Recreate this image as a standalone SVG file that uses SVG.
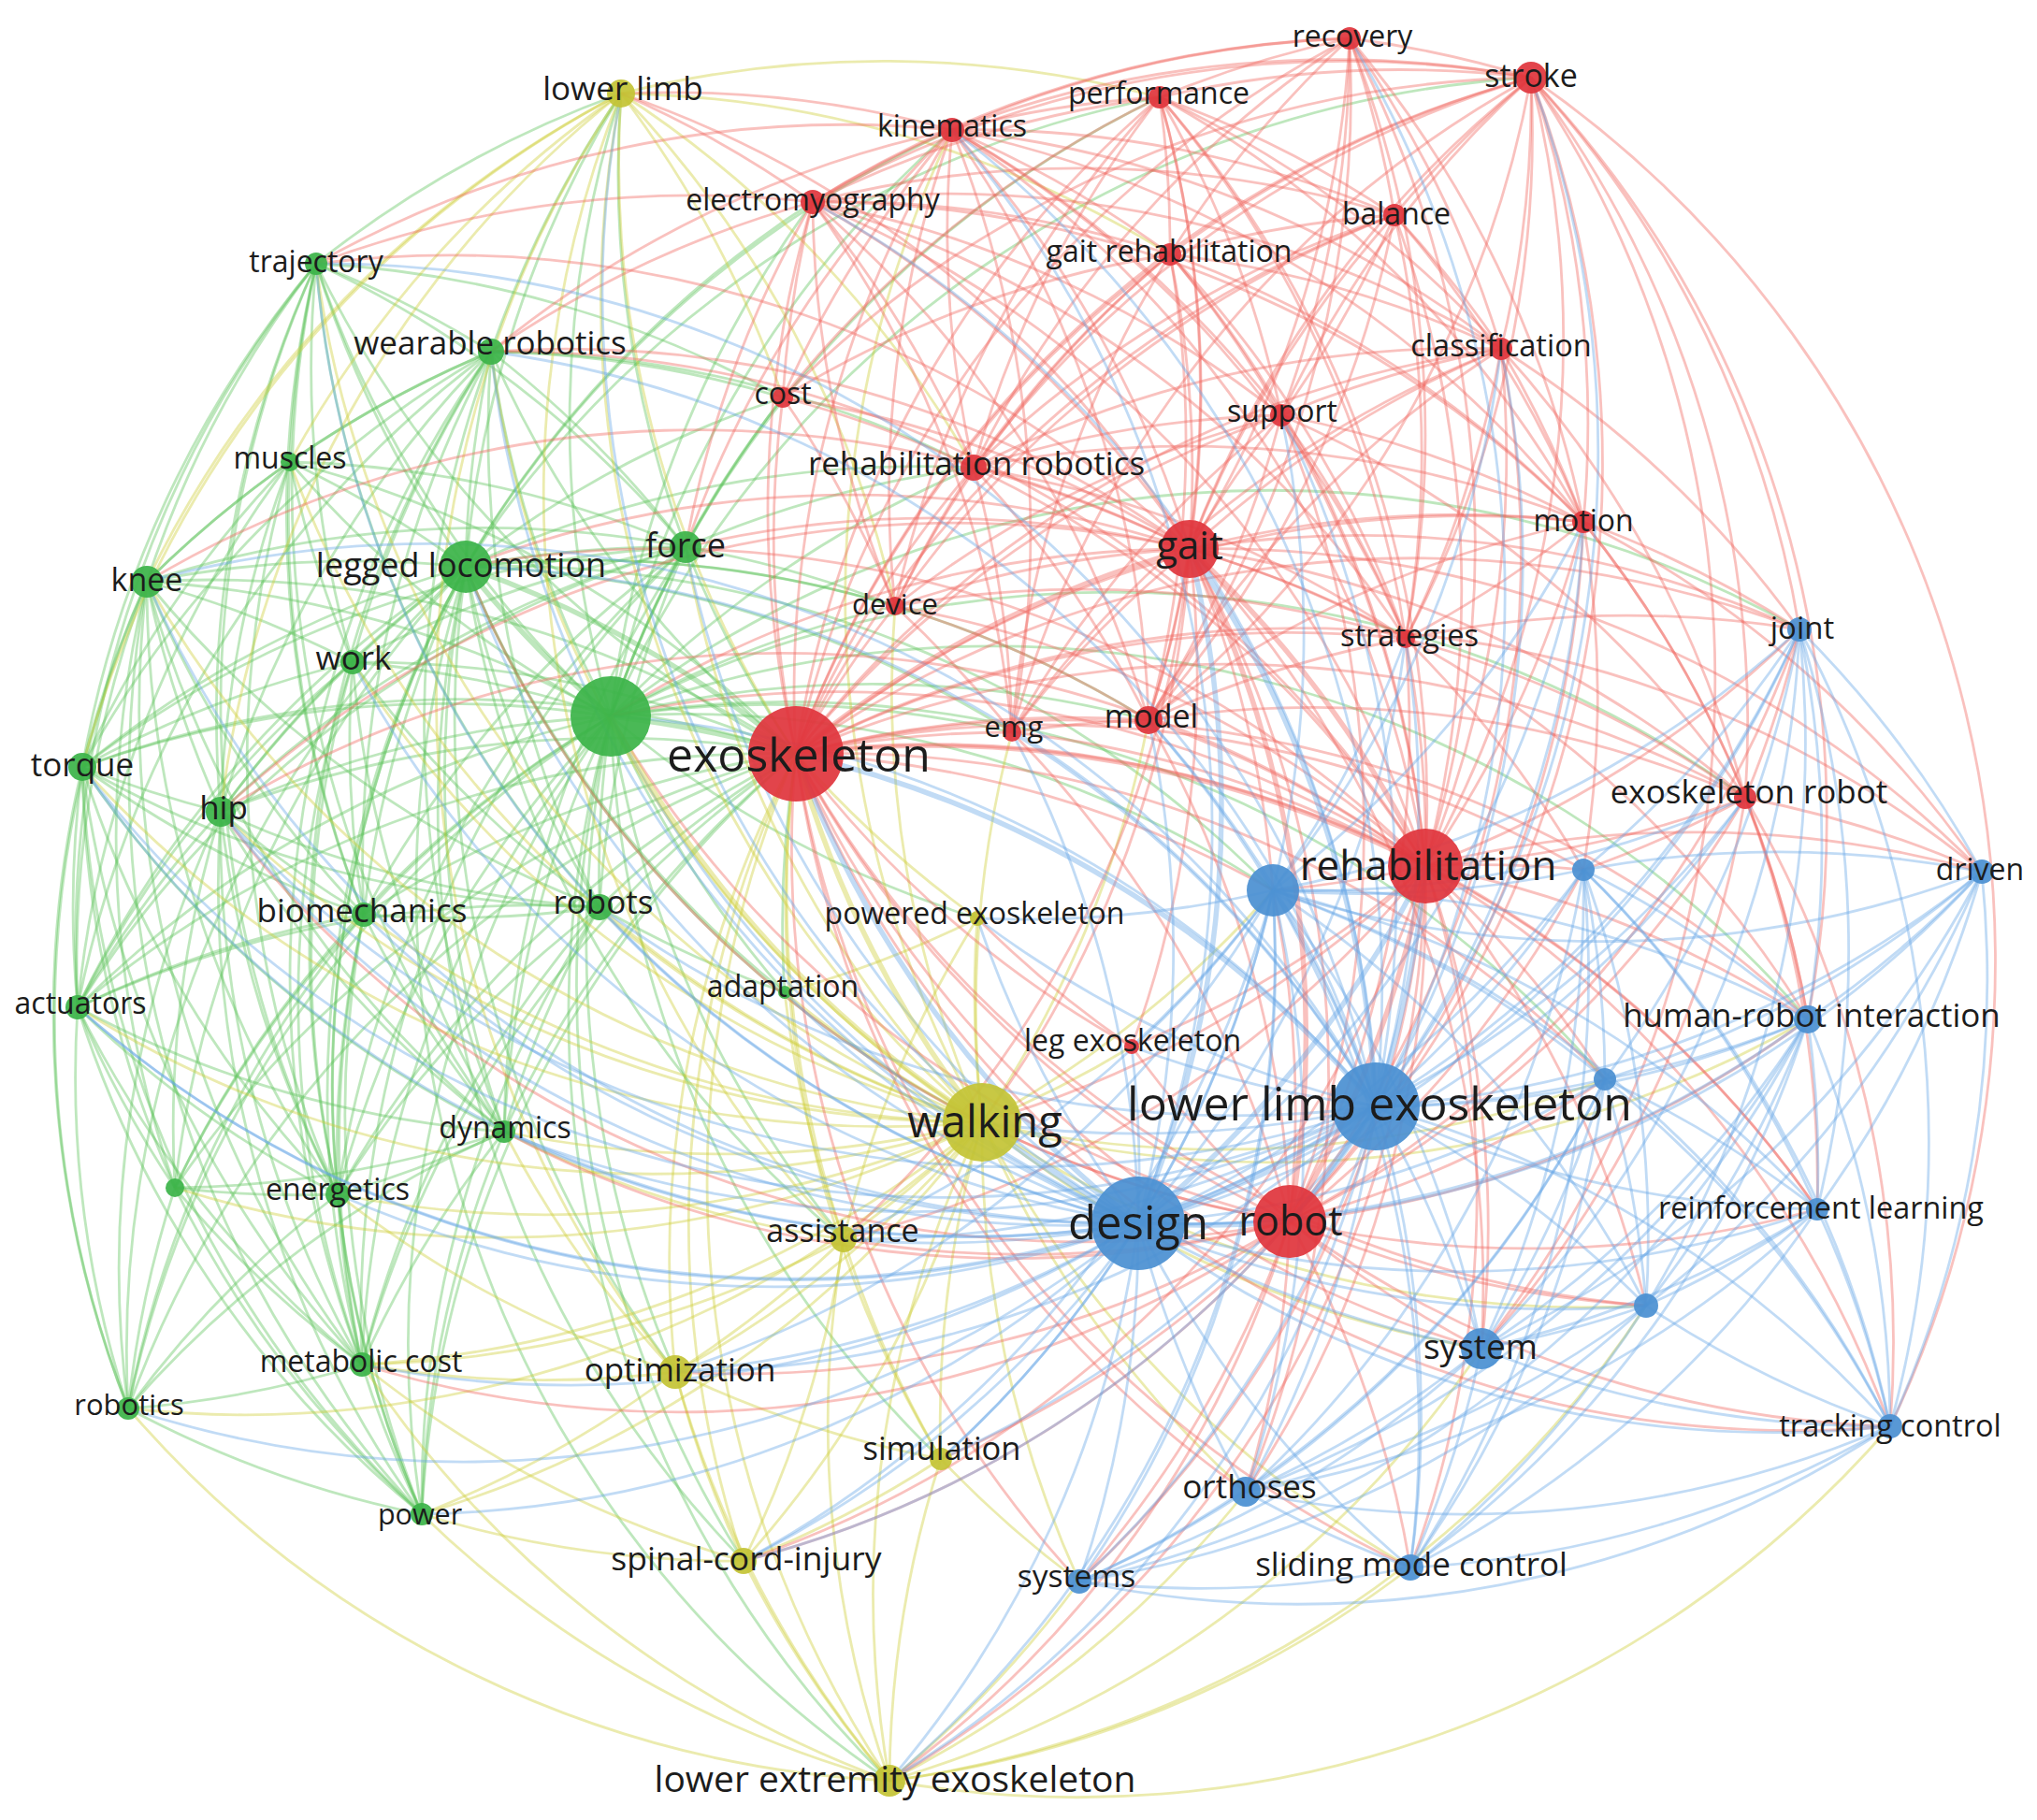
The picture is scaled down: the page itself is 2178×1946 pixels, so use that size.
<svg xmlns="http://www.w3.org/2000/svg" width="2178" height="1946" viewBox="0 0 2178 1946">
<style>
.e path{fill:none;stroke-width:2.8;stroke-opacity:.4}
.g path{stroke:#5cc45a}
.y path{stroke:#cdcd35}
.r path{stroke:#f0645c}
.b path{stroke:#64a6e6}
.t path{stroke-width:5.5;stroke-opacity:.4}
.cR{fill:#e0363d}
.cG{fill:#3cb449}
.cB{fill:#4b90d2}
.cY{fill:#c4c436}
circle{fill-opacity:.93}
text{font-family:"Open Sans","Noto Sans","DejaVu Sans",sans-serif;fill:#1c1c1c;text-anchor:middle}
</style>
<rect width="2178" height="1946" fill="#fff"/>
<g id="connectors">
<g class="e g">
<path d="M157 622A1150 1150 0 0 1 851 806"/><path d="M310 494A1150 1150 0 0 1 851 806"/><path d="M851 806A1150 1150 0 0 1 338 282"/><path d="M851 806A1150 1150 0 0 1 525 376"/><path d="M851 806A1150 1150 0 0 1 733 585"/><path d="M377 708A1150 1150 0 0 1 851 806"/><path d="M88 820A1150 1150 0 0 1 851 806"/><path d="M236 868A1150 1150 0 0 1 851 806"/><path d="M389 978A1150 1150 0 0 1 851 806"/><path d="M641 970A1150 1150 0 0 1 851 806"/><path d="M83 1077A1150 1150 0 0 1 851 806"/><path d="M839 1061A1150 1150 0 0 1 851 806"/><path d="M539 1210A1150 1150 0 0 1 851 806"/><path d="M187 1270A1150 1150 0 0 1 851 806"/><path d="M361 1277A1150 1150 0 0 1 851 806"/><path d="M387 1459A1150 1150 0 0 1 851 806"/><path d="M137 1506A1150 1150 0 0 1 851 806"/><path d="M451 1619A1150 1150 0 0 1 851 806"/>
<path d="M653 766A1150 1150 0 0 1 338 282"/><path d="M653 766A1150 1150 0 0 1 525 376"/><path d="M653 766A1150 1150 0 0 1 310 494"/><path d="M157 622A1150 1150 0 0 1 653 766"/><path d="M653 766A1150 1150 0 0 1 733 585"/><path d="M377 708A1150 1150 0 0 1 653 766"/><path d="M88 820A1150 1150 0 0 1 653 766"/><path d="M236 868A1150 1150 0 0 1 653 766"/><path d="M389 978A1150 1150 0 0 1 653 766"/><path d="M641 970A1150 1150 0 0 1 653 766"/><path d="M83 1077A1150 1150 0 0 1 653 766"/><path d="M839 1061A1150 1150 0 0 1 653 766"/><path d="M539 1210A1150 1150 0 0 1 653 766"/><path d="M187 1270A1150 1150 0 0 1 653 766"/><path d="M361 1277A1150 1150 0 0 1 653 766"/><path d="M387 1459A1150 1150 0 0 1 653 766"/><path d="M137 1506A1150 1150 0 0 1 653 766"/><path d="M451 1619A1150 1150 0 0 1 653 766"/><path d="M653 766A1150 1150 0 0 1 664 100"/><path d="M653 766A1150 1150 0 0 1 1018 139"/><path d="M653 766A1150 1150 0 0 1 869 216"/><path d="M653 766A1150 1150 0 0 1 837 425"/><path d="M653 766A1150 1150 0 0 1 1041 500"/><path d="M653 766A1150 1150 0 0 1 957 648"/><path d="M653 766A1150 1150 0 0 1 1082 783"/><path d="M653 766A1150 1150 0 0 1 1228 770"/><path d="M722 1467A1150 1150 0 0 1 653 766"/><path d="M1006 1560A1150 1150 0 0 1 653 766"/><path d="M795 1669A1150 1150 0 0 1 653 766"/><path d="M951 1904A1150 1150 0 0 1 653 766"/><path d="M1045 982A1150 1150 0 0 1 653 766"/><path d="M902 1325A1150 1150 0 0 1 653 766"/><path d="M653 766A1150 1150 0 0 1 1361 952"/><path d="M653 766A1150 1150 0 0 1 1933 1090"/><path d="M653 766A1150 1150 0 0 1 1716 1154"/><path d="M653 766A1150 1150 0 0 1 1924 673"/><path d="M653 766A1150 1150 0 0 1 1240 104"/><path d="M653 766A1150 1150 0 0 1 1637 83"/><path d="M653 766A1150 1150 0 0 1 1866 853"/>
<path d="M498 606A1150 1150 0 0 1 338 282"/><path d="M498 606A1150 1150 0 0 1 525 376"/><path d="M310 494A1150 1150 0 0 1 498 606"/><path d="M157 622A1150 1150 0 0 1 498 606"/><path d="M498 606A1150 1150 0 0 1 733 585"/><path d="M377 708A1150 1150 0 0 1 498 606"/><path d="M88 820A1150 1150 0 0 1 498 606"/><path d="M236 868A1150 1150 0 0 1 498 606"/><path d="M389 978A1150 1150 0 0 1 498 606"/><path d="M641 970A1150 1150 0 0 1 498 606"/><path d="M83 1077A1150 1150 0 0 1 498 606"/><path d="M839 1061A1150 1150 0 0 1 498 606"/><path d="M539 1210A1150 1150 0 0 1 498 606"/><path d="M187 1270A1150 1150 0 0 1 498 606"/><path d="M361 1277A1150 1150 0 0 1 498 606"/><path d="M387 1459A1150 1150 0 0 1 498 606"/><path d="M137 1506A1150 1150 0 0 1 498 606"/><path d="M451 1619A1150 1150 0 0 1 498 606"/><path d="M498 606A1150 1150 0 0 1 664 100"/><path d="M498 606A1150 1150 0 0 1 1018 139"/><path d="M498 606A1150 1150 0 0 1 869 216"/><path d="M498 606A1150 1150 0 0 1 837 425"/><path d="M498 606A1150 1150 0 0 1 1041 500"/><path d="M498 606A1150 1150 0 0 1 957 648"/><path d="M498 606A1150 1150 0 0 1 1082 783"/><path d="M1050 1200A1150 1150 0 0 1 498 606"/><path d="M902 1325A1150 1150 0 0 1 498 606"/><path d="M722 1467A1150 1150 0 0 1 498 606"/><path d="M795 1669A1150 1150 0 0 1 498 606"/><path d="M951 1904A1150 1150 0 0 1 498 606"/><path d="M498 606A1150 1150 0 0 1 1361 952"/><path d="M498 606A1150 1150 0 0 1 1228 770"/><path d="M498 606A1150 1150 0 0 1 1240 104"/>
<path d="M338 282A1150 1150 0 0 1 525 376"/><path d="M310 494A1150 1150 0 0 1 338 282"/><path d="M157 622A1150 1150 0 0 1 338 282"/><path d="M338 282A1150 1150 0 0 1 733 585"/><path d="M377 708A1150 1150 0 0 1 338 282"/><path d="M88 820A1150 1150 0 0 1 338 282"/><path d="M236 868A1150 1150 0 0 1 338 282"/><path d="M389 978A1150 1150 0 0 1 338 282"/><path d="M641 970A1150 1150 0 0 1 338 282"/><path d="M83 1077A1150 1150 0 0 1 338 282"/><path d="M539 1210A1150 1150 0 0 1 338 282"/><path d="M361 1277A1150 1150 0 0 1 338 282"/><path d="M338 282A1150 1150 0 0 1 664 100"/><path d="M338 282A1150 1150 0 0 1 837 425"/>
<path d="M310 494A1150 1150 0 0 1 525 376"/><path d="M157 622A1150 1150 0 0 1 525 376"/><path d="M377 708A1150 1150 0 0 1 525 376"/><path d="M88 820A1150 1150 0 0 1 525 376"/><path d="M236 868A1150 1150 0 0 1 525 376"/><path d="M389 978A1150 1150 0 0 1 525 376"/><path d="M641 970A1150 1150 0 0 1 525 376"/><path d="M83 1077A1150 1150 0 0 1 525 376"/><path d="M539 1210A1150 1150 0 0 1 525 376"/><path d="M361 1277A1150 1150 0 0 1 525 376"/><path d="M387 1459A1150 1150 0 0 1 525 376"/><path d="M525 376A1150 1150 0 0 1 733 585"/><path d="M525 376A1150 1150 0 0 1 664 100"/><path d="M525 376A1150 1150 0 0 1 837 425"/><path d="M525 376A1150 1150 0 0 1 1041 500"/>
<path d="M157 622A1150 1150 0 0 1 310 494"/><path d="M377 708A1150 1150 0 0 1 310 494"/><path d="M88 820A1150 1150 0 0 1 310 494"/><path d="M236 868A1150 1150 0 0 1 310 494"/><path d="M389 978A1150 1150 0 0 1 310 494"/><path d="M83 1077A1150 1150 0 0 1 310 494"/><path d="M361 1277A1150 1150 0 0 1 310 494"/><path d="M310 494A1150 1150 0 0 1 733 585"/>
<path d="M157 622A1150 1150 0 0 1 377 708"/><path d="M88 820A1150 1150 0 0 1 157 622"/><path d="M236 868A1150 1150 0 0 1 157 622"/><path d="M389 978A1150 1150 0 0 1 157 622"/><path d="M641 970A1150 1150 0 0 1 157 622"/><path d="M83 1077A1150 1150 0 0 1 157 622"/><path d="M539 1210A1150 1150 0 0 1 157 622"/><path d="M187 1270A1150 1150 0 0 1 157 622"/><path d="M361 1277A1150 1150 0 0 1 157 622"/><path d="M387 1459A1150 1150 0 0 1 157 622"/><path d="M137 1506A1150 1150 0 0 1 157 622"/><path d="M451 1619A1150 1150 0 0 1 157 622"/><path d="M157 622A1150 1150 0 0 1 733 585"/>
<path d="M377 708A1150 1150 0 0 1 733 585"/><path d="M88 820A1150 1150 0 0 1 733 585"/><path d="M236 868A1150 1150 0 0 1 733 585"/><path d="M389 978A1150 1150 0 0 1 733 585"/><path d="M641 970A1150 1150 0 0 1 733 585"/><path d="M83 1077A1150 1150 0 0 1 733 585"/><path d="M539 1210A1150 1150 0 0 1 733 585"/><path d="M361 1277A1150 1150 0 0 1 733 585"/><path d="M387 1459A1150 1150 0 0 1 733 585"/><path d="M733 585A1150 1150 0 0 1 664 100"/><path d="M733 585A1150 1150 0 0 1 837 425"/><path d="M733 585A1150 1150 0 0 1 957 648"/><path d="M733 585A1150 1150 0 0 1 1041 500"/>
<path d="M88 820A1150 1150 0 0 1 377 708"/><path d="M236 868A1150 1150 0 0 1 377 708"/><path d="M389 978A1150 1150 0 0 1 377 708"/><path d="M641 970A1150 1150 0 0 1 377 708"/><path d="M83 1077A1150 1150 0 0 1 377 708"/><path d="M539 1210A1150 1150 0 0 1 377 708"/><path d="M361 1277A1150 1150 0 0 1 377 708"/><path d="M387 1459A1150 1150 0 0 1 377 708"/>
<path d="M236 868A1150 1150 0 0 1 88 820"/><path d="M389 978A1150 1150 0 0 1 88 820"/><path d="M641 970A1150 1150 0 0 1 88 820"/><path d="M83 1077A1150 1150 0 0 1 88 820"/><path d="M539 1210A1150 1150 0 0 1 88 820"/><path d="M187 1270A1150 1150 0 0 1 88 820"/><path d="M361 1277A1150 1150 0 0 1 88 820"/><path d="M387 1459A1150 1150 0 0 1 88 820"/><path d="M137 1506A1150 1150 0 0 1 88 820"/><path d="M451 1619A1150 1150 0 0 1 88 820"/>
<path d="M389 978A1150 1150 0 0 1 236 868"/><path d="M641 970A1150 1150 0 0 1 236 868"/><path d="M83 1077A1150 1150 0 0 1 236 868"/><path d="M539 1210A1150 1150 0 0 1 236 868"/><path d="M187 1270A1150 1150 0 0 1 236 868"/><path d="M361 1277A1150 1150 0 0 1 236 868"/><path d="M387 1459A1150 1150 0 0 1 236 868"/><path d="M137 1506A1150 1150 0 0 1 236 868"/><path d="M451 1619A1150 1150 0 0 1 236 868"/>
<path d="M641 970A1150 1150 0 0 1 389 978"/><path d="M83 1077A1150 1150 0 0 1 389 978"/><path d="M539 1210A1150 1150 0 0 1 389 978"/><path d="M187 1270A1150 1150 0 0 1 389 978"/><path d="M361 1277A1150 1150 0 0 1 389 978"/><path d="M387 1459A1150 1150 0 0 1 389 978"/><path d="M137 1506A1150 1150 0 0 1 389 978"/><path d="M451 1619A1150 1150 0 0 1 389 978"/>
<path d="M83 1077A1150 1150 0 0 1 641 970"/><path d="M539 1210A1150 1150 0 0 1 641 970"/><path d="M361 1277A1150 1150 0 0 1 641 970"/><path d="M387 1459A1150 1150 0 0 1 641 970"/><path d="M451 1619A1150 1150 0 0 1 641 970"/><path d="M839 1061A1150 1150 0 0 1 641 970"/>
<path d="M539 1210A1150 1150 0 0 1 83 1077"/><path d="M187 1270A1150 1150 0 0 1 83 1077"/><path d="M361 1277A1150 1150 0 0 1 83 1077"/><path d="M387 1459A1150 1150 0 0 1 83 1077"/><path d="M137 1506A1150 1150 0 0 1 83 1077"/><path d="M451 1619A1150 1150 0 0 1 83 1077"/>
<path d="M539 1210A1150 1150 0 0 1 361 1277"/><path d="M387 1459A1150 1150 0 0 1 539 1210"/><path d="M137 1506A1150 1150 0 0 1 539 1210"/><path d="M451 1619A1150 1150 0 0 1 539 1210"/><path d="M539 1210A1150 1150 0 0 1 187 1270"/><path d="M361 1277A1150 1150 0 0 1 187 1270"/><path d="M387 1459A1150 1150 0 0 1 187 1270"/><path d="M137 1506A1150 1150 0 0 1 187 1270"/><path d="M451 1619A1150 1150 0 0 1 187 1270"/><path d="M387 1459A1150 1150 0 0 1 361 1277"/><path d="M137 1506A1150 1150 0 0 1 361 1277"/><path d="M451 1619A1150 1150 0 0 1 361 1277"/><path d="M387 1459A1150 1150 0 0 1 137 1506"/><path d="M451 1619A1150 1150 0 0 1 387 1459"/><path d="M451 1619A1150 1150 0 0 1 137 1506"/>
</g>
<g class="e y">
<path d="M851 806A1150 1150 0 0 1 664 100"/><path d="M1045 982A1150 1150 0 0 1 851 806"/><path d="M902 1325A1150 1150 0 0 1 851 806"/><path d="M722 1467A1150 1150 0 0 1 851 806"/><path d="M1006 1560A1150 1150 0 0 1 851 806"/><path d="M795 1669A1150 1150 0 0 1 851 806"/><path d="M951 1904A1150 1150 0 0 1 851 806"/>
<path d="M1050 1200A1150 1150 0 0 1 902 1325"/><path d="M1050 1200A1150 1150 0 0 1 722 1467"/><path d="M1006 1560A1150 1150 0 0 1 1050 1200"/><path d="M1050 1200A1150 1150 0 0 1 795 1669"/><path d="M951 1904A1150 1150 0 0 1 1050 1200"/><path d="M1050 1200A1150 1150 0 0 1 1045 982"/><path d="M1050 1200A1150 1150 0 0 1 839 1061"/><path d="M1050 1200A1150 1150 0 0 1 539 1210"/><path d="M1050 1200A1150 1150 0 0 1 387 1459"/><path d="M1050 1200A1150 1150 0 0 1 451 1619"/><path d="M1050 1200A1150 1150 0 0 1 361 1277"/><path d="M1050 1200A1150 1150 0 0 1 641 970"/><path d="M1050 1200A1150 1150 0 0 1 389 978"/><path d="M1050 1200A1150 1150 0 0 1 236 868"/><path d="M1050 1200A1150 1150 0 0 1 157 622"/><path d="M1050 1200A1150 1150 0 0 1 88 820"/><path d="M1050 1200A1150 1150 0 0 1 83 1077"/><path d="M1050 1200A1150 1150 0 0 1 137 1506"/><path d="M1050 1200A1150 1150 0 0 1 187 1270"/><path d="M1050 1200A1150 1150 0 0 1 733 585"/><path d="M1050 1200A1150 1150 0 0 1 377 708"/><path d="M1050 1200A1150 1150 0 0 1 310 494"/><path d="M1050 1200A1150 1150 0 0 1 338 282"/><path d="M1050 1200A1150 1150 0 0 1 525 376"/><path d="M1050 1200A1150 1150 0 0 1 664 100"/><path d="M1050 1200A1150 1150 0 0 1 1082 783"/><path d="M1050 1200A1150 1150 0 0 1 957 648"/><path d="M1050 1200A1150 1150 0 0 1 1018 139"/><path d="M1361 952A1150 1150 0 0 1 1050 1200"/><path d="M1716 1154A1150 1150 0 0 1 1050 1200"/><path d="M1584 1442A1150 1150 0 0 1 1050 1200"/><path d="M1332 1595A1150 1150 0 0 1 1050 1200"/><path d="M1508 1676A1150 1150 0 0 1 1050 1200"/><path d="M1154 1691A1150 1150 0 0 1 1050 1200"/><path d="M1933 1090A1150 1150 0 0 1 1050 1200"/><path d="M1760 1396A1150 1150 0 0 1 1050 1200"/><path d="M1228 770A1150 1150 0 0 1 1050 1200"/><path d="M1210 1119A1150 1150 0 0 1 1050 1200"/>
<path d="M664 100A1150 1150 0 0 1 837 425"/><path d="M664 100A1150 1150 0 0 1 1041 500"/><path d="M664 100A1150 1150 0 0 1 957 648"/><path d="M664 100A1150 1150 0 0 1 1240 104"/><path d="M664 100A1150 1150 0 0 1 1251 272"/><path d="M157 622A1150 1150 0 0 1 664 100"/><path d="M310 494A1150 1150 0 0 1 664 100"/><path d="M88 820A1150 1150 0 0 1 664 100"/><path d="M236 868A1150 1150 0 0 1 664 100"/><path d="M902 1325A1150 1150 0 0 1 664 100"/><path d="M722 1467A1150 1150 0 0 1 664 100"/>
<path d="M902 1325A1150 1150 0 0 1 722 1467"/><path d="M1006 1560A1150 1150 0 0 1 902 1325"/><path d="M902 1325A1150 1150 0 0 1 795 1669"/><path d="M951 1904A1150 1150 0 0 1 902 1325"/><path d="M902 1325A1150 1150 0 0 1 1045 982"/><path d="M902 1325A1150 1150 0 0 1 839 1061"/><path d="M902 1325A1150 1150 0 0 1 539 1210"/><path d="M902 1325A1150 1150 0 0 1 387 1459"/><path d="M1006 1560A1150 1150 0 0 1 722 1467"/><path d="M795 1669A1150 1150 0 0 1 722 1467"/><path d="M951 1904A1150 1150 0 0 1 722 1467"/><path d="M722 1467A1150 1150 0 0 1 387 1459"/><path d="M722 1467A1150 1150 0 0 1 451 1619"/><path d="M722 1467A1150 1150 0 0 1 539 1210"/><path d="M722 1467A1150 1150 0 0 1 361 1277"/><path d="M1006 1560A1150 1150 0 0 1 795 1669"/><path d="M951 1904A1150 1150 0 0 1 1006 1560"/><path d="M1154 1691A1150 1150 0 0 1 1006 1560"/><path d="M951 1904A1150 1150 0 0 1 795 1669"/><path d="M795 1669A1150 1150 0 0 1 451 1619"/><path d="M795 1669A1150 1150 0 0 1 387 1459"/><path d="M951 1904A1150 1150 0 0 1 451 1619"/><path d="M951 1904A1150 1150 0 0 1 387 1459"/><path d="M951 1904A1150 1150 0 0 1 137 1506"/><path d="M1154 1691A1150 1150 0 0 1 951 1904"/><path d="M1332 1595A1150 1150 0 0 1 951 1904"/><path d="M1508 1676A1150 1150 0 0 1 951 1904"/><path d="M2021 1525A1150 1150 0 0 1 951 1904"/><path d="M1584 1442A1150 1150 0 0 1 951 1904"/><path d="M1760 1396A1150 1150 0 0 1 951 1904"/><path d="M1045 982A1150 1150 0 0 1 839 1061"/>
</g>
<g class="e r">
<path d="M851 806A1150 1150 0 0 1 1443 41"/><path d="M851 806A1150 1150 0 0 1 1637 83"/><path d="M851 806A1150 1150 0 0 1 1240 104"/><path d="M851 806A1150 1150 0 0 1 1018 139"/><path d="M851 806A1150 1150 0 0 1 869 216"/><path d="M851 806A1150 1150 0 0 1 1491 230"/><path d="M851 806A1150 1150 0 0 1 1251 272"/><path d="M851 806A1150 1150 0 0 1 1605 373"/><path d="M851 806A1150 1150 0 0 1 837 425"/><path d="M851 806A1150 1150 0 0 1 1370 444"/><path d="M851 806A1150 1150 0 0 1 1041 500"/><path d="M851 806A1150 1150 0 0 1 1693 558"/><path d="M851 806A1150 1150 0 0 1 957 648"/><path d="M851 806A1150 1150 0 0 1 1503 683"/><path d="M851 806A1150 1150 0 0 1 1228 770"/><path d="M851 806A1150 1150 0 0 1 1082 783"/><path d="M851 806A1150 1150 0 0 1 1866 853"/><path d="M1379 1306A1150 1150 0 0 1 851 806"/><path d="M1210 1119A1150 1150 0 0 1 851 806"/><path d="M851 806A1150 1150 0 0 1 1924 673"/><path d="M851 806A1150 1150 0 0 1 1361 952"/><path d="M851 806A1150 1150 0 0 1 1693 930"/><path d="M851 806A1150 1150 0 0 1 2119 932"/><path d="M851 806A1150 1150 0 0 1 1933 1090"/><path d="M851 806A1150 1150 0 0 1 1716 1154"/><path d="M851 806A1150 1150 0 0 1 1943 1293"/><path d="M1760 1396A1150 1150 0 0 1 851 806"/><path d="M1584 1442A1150 1150 0 0 1 851 806"/><path d="M2021 1525A1150 1150 0 0 1 851 806"/><path d="M1332 1595A1150 1150 0 0 1 851 806"/><path d="M1508 1676A1150 1150 0 0 1 851 806"/><path d="M1154 1691A1150 1150 0 0 1 851 806"/>
<path d="M1443 41A1150 1150 0 0 1 1272 587"/><path d="M1272 587A1150 1150 0 0 1 1637 83"/><path d="M1240 104A1150 1150 0 0 1 1272 587"/><path d="M1018 139A1150 1150 0 0 1 1272 587"/><path d="M869 216A1150 1150 0 0 1 1272 587"/><path d="M1272 587A1150 1150 0 0 1 1491 230"/><path d="M1251 272A1150 1150 0 0 1 1272 587"/><path d="M1272 587A1150 1150 0 0 1 1605 373"/><path d="M837 425A1150 1150 0 0 1 1272 587"/><path d="M1272 587A1150 1150 0 0 1 1370 444"/><path d="M1041 500A1150 1150 0 0 1 1272 587"/><path d="M1272 587A1150 1150 0 0 1 1693 558"/><path d="M957 648A1150 1150 0 0 1 1272 587"/><path d="M1272 587A1150 1150 0 0 1 1503 683"/><path d="M1272 587A1150 1150 0 0 1 1228 770"/><path d="M1082 783A1150 1150 0 0 1 1272 587"/><path d="M1272 587A1150 1150 0 0 1 1866 853"/><path d="M1272 587A1150 1150 0 0 1 1210 1119"/><path d="M498 606A1150 1150 0 0 1 1272 587"/><path d="M653 766A1150 1150 0 0 1 1272 587"/><path d="M525 376A1150 1150 0 0 1 1272 587"/><path d="M733 585A1150 1150 0 0 1 1272 587"/><path d="M1272 587A1150 1150 0 0 1 1050 1200"/><path d="M1272 587A1150 1150 0 0 1 1924 673"/><path d="M1272 587A1150 1150 0 0 1 1361 952"/><path d="M1272 587A1150 1150 0 0 1 1933 1090"/><path d="M1272 587A1150 1150 0 0 1 1584 1442"/><path d="M664 100A1150 1150 0 0 1 1272 587"/><path d="M338 282A1150 1150 0 0 1 1272 587"/><path d="M157 622A1150 1150 0 0 1 1272 587"/><path d="M236 868A1150 1150 0 0 1 1272 587"/><path d="M1272 587A1150 1150 0 0 1 902 1325"/><path d="M1272 587A1150 1150 0 0 1 1332 1595"/><path d="M1272 587A1150 1150 0 0 1 2119 932"/>
<path d="M1443 41A1150 1150 0 0 1 1524 926"/><path d="M1637 83A1150 1150 0 0 1 1524 926"/><path d="M1240 104A1150 1150 0 0 1 1524 926"/><path d="M1018 139A1150 1150 0 0 1 1524 926"/><path d="M869 216A1150 1150 0 0 1 1524 926"/><path d="M1491 230A1150 1150 0 0 1 1524 926"/><path d="M1251 272A1150 1150 0 0 1 1524 926"/><path d="M1605 373A1150 1150 0 0 1 1524 926"/><path d="M1370 444A1150 1150 0 0 1 1524 926"/><path d="M1041 500A1150 1150 0 0 1 1524 926"/><path d="M1693 558A1150 1150 0 0 1 1524 926"/><path d="M957 648A1150 1150 0 0 1 1524 926"/><path d="M1503 683A1150 1150 0 0 1 1524 926"/><path d="M1228 770A1150 1150 0 0 1 1524 926"/><path d="M1082 783A1150 1150 0 0 1 1524 926"/><path d="M1866 853A1150 1150 0 0 1 1524 926"/><path d="M1524 926A1150 1150 0 0 1 1210 1119"/><path d="M1924 673A1150 1150 0 0 1 1524 926"/><path d="M1524 926A1150 1150 0 0 1 1361 952"/><path d="M1524 926A1150 1150 0 0 1 1693 930"/><path d="M1524 926A1150 1150 0 0 1 2119 932"/><path d="M1524 926A1150 1150 0 0 1 1933 1090"/><path d="M1524 926A1150 1150 0 0 1 1716 1154"/><path d="M1524 926A1150 1150 0 0 1 1943 1293"/><path d="M1524 926A1150 1150 0 0 1 1760 1396"/><path d="M1524 926A1150 1150 0 0 1 1584 1442"/><path d="M1524 926A1150 1150 0 0 1 2021 1525"/><path d="M1524 926A1150 1150 0 0 1 1332 1595"/><path d="M1524 926A1150 1150 0 0 1 1508 1676"/><path d="M1524 926A1150 1150 0 0 1 1154 1691"/><path d="M1524 926A1150 1150 0 0 1 1050 1200"/><path d="M1524 926A1150 1150 0 0 1 902 1325"/><path d="M498 606A1150 1150 0 0 1 1524 926"/><path d="M653 766A1150 1150 0 0 1 1524 926"/><path d="M236 868A1150 1150 0 0 1 1524 926"/><path d="M525 376A1150 1150 0 0 1 1524 926"/><path d="M1524 926A1150 1150 0 0 1 951 1904"/><path d="M1524 926A1150 1150 0 0 1 795 1669"/>
<path d="M1361 952A1150 1150 0 0 1 1379 1306"/><path d="M1379 1306A1150 1150 0 0 1 1210 1119"/><path d="M1379 1306A1150 1150 0 0 1 1050 1200"/><path d="M1693 930A1150 1150 0 0 1 1379 1306"/><path d="M1933 1090A1150 1150 0 0 1 1379 1306"/><path d="M1716 1154A1150 1150 0 0 1 1379 1306"/><path d="M1943 1293A1150 1150 0 0 1 1379 1306"/><path d="M1760 1396A1150 1150 0 0 1 1379 1306"/><path d="M1584 1442A1150 1150 0 0 1 1379 1306"/><path d="M2021 1525A1150 1150 0 0 1 1379 1306"/><path d="M1379 1306A1150 1150 0 0 1 1332 1595"/><path d="M1379 1306A1150 1150 0 0 1 1508 1676"/><path d="M1379 1306A1150 1150 0 0 1 1154 1691"/><path d="M1379 1306A1150 1150 0 0 1 902 1325"/><path d="M1379 1306A1150 1150 0 0 1 1006 1560"/><path d="M1379 1306A1150 1150 0 0 1 951 1904"/><path d="M1379 1306A1150 1150 0 0 1 795 1669"/><path d="M1379 1306A1150 1150 0 0 1 722 1467"/><path d="M1924 673A1150 1150 0 0 1 1379 1306"/><path d="M1228 770A1150 1150 0 0 1 1379 1306"/><path d="M1503 683A1150 1150 0 0 1 1379 1306"/><path d="M1693 558A1150 1150 0 0 1 1379 1306"/><path d="M1370 444A1150 1150 0 0 1 1379 1306"/><path d="M1637 83A1150 1150 0 0 1 1379 1306"/><path d="M1605 373A1150 1150 0 0 1 1379 1306"/><path d="M1082 783A1150 1150 0 0 1 1379 1306"/><path d="M1379 1306A1150 1150 0 0 1 653 766"/><path d="M1379 1306A1150 1150 0 0 1 498 606"/><path d="M1379 1306A1150 1150 0 0 1 236 868"/><path d="M1379 1306A1150 1150 0 0 1 539 1210"/><path d="M1379 1306A1150 1150 0 0 1 387 1459"/><path d="M1866 853A1150 1150 0 0 1 1379 1306"/>
<path d="M1443 41A1150 1150 0 0 1 1637 83"/><path d="M1240 104A1150 1150 0 0 1 1443 41"/><path d="M1018 139A1150 1150 0 0 1 1443 41"/><path d="M869 216A1150 1150 0 0 1 1443 41"/><path d="M1443 41A1150 1150 0 0 1 1491 230"/><path d="M1251 272A1150 1150 0 0 1 1443 41"/><path d="M1443 41A1150 1150 0 0 1 1605 373"/><path d="M1443 41A1150 1150 0 0 1 1370 444"/><path d="M1041 500A1150 1150 0 0 1 1443 41"/><path d="M1443 41A1150 1150 0 0 1 1693 558"/><path d="M1443 41A1150 1150 0 0 1 1503 683"/><path d="M1443 41A1150 1150 0 0 1 1228 770"/>
<path d="M1240 104A1150 1150 0 0 1 1637 83"/><path d="M1018 139A1150 1150 0 0 1 1637 83"/><path d="M869 216A1150 1150 0 0 1 1637 83"/><path d="M1491 230A1150 1150 0 0 1 1637 83"/><path d="M1251 272A1150 1150 0 0 1 1637 83"/><path d="M1637 83A1150 1150 0 0 1 1605 373"/><path d="M1370 444A1150 1150 0 0 1 1637 83"/><path d="M1041 500A1150 1150 0 0 1 1637 83"/><path d="M1637 83A1150 1150 0 0 1 1693 558"/><path d="M1637 83A1150 1150 0 0 1 1503 683"/><path d="M1637 83A1150 1150 0 0 1 1228 770"/><path d="M1637 83A1150 1150 0 0 1 1866 853"/><path d="M1637 83A1150 1150 0 0 1 1924 673"/><path d="M1637 83A1150 1150 0 0 1 2021 1525"/><path d="M1637 83A1150 1150 0 0 1 1584 1442"/><path d="M1082 783A1150 1150 0 0 1 1637 83"/><path d="M837 425A1150 1150 0 0 1 1637 83"/><path d="M1637 83A1150 1150 0 0 1 1933 1090"/>
<path d="M1018 139A1150 1150 0 0 1 1240 104"/><path d="M869 216A1150 1150 0 0 1 1240 104"/><path d="M1240 104A1150 1150 0 0 1 1251 272"/><path d="M1240 104A1150 1150 0 0 1 1491 230"/><path d="M1240 104A1150 1150 0 0 1 1605 373"/><path d="M1240 104A1150 1150 0 0 1 1370 444"/><path d="M1041 500A1150 1150 0 0 1 1240 104"/><path d="M1240 104A1150 1150 0 0 1 1693 558"/><path d="M1240 104A1150 1150 0 0 1 1503 683"/><path d="M1240 104A1150 1150 0 0 1 1228 770"/><path d="M837 425A1150 1150 0 0 1 1240 104"/><path d="M957 648A1150 1150 0 0 1 1240 104"/>
<path d="M869 216A1150 1150 0 0 1 1018 139"/><path d="M1018 139A1150 1150 0 0 1 1251 272"/><path d="M1018 139A1150 1150 0 0 1 1491 230"/><path d="M1018 139A1150 1150 0 0 1 1605 373"/><path d="M1018 139A1150 1150 0 0 1 1370 444"/><path d="M1041 500A1150 1150 0 0 1 1018 139"/><path d="M837 425A1150 1150 0 0 1 1018 139"/><path d="M957 648A1150 1150 0 0 1 1018 139"/><path d="M1018 139A1150 1150 0 0 1 1693 558"/><path d="M1018 139A1150 1150 0 0 1 1503 683"/><path d="M1018 139A1150 1150 0 0 1 1228 770"/><path d="M1018 139A1150 1150 0 0 1 1082 783"/><path d="M664 100A1150 1150 0 0 1 1018 139"/><path d="M338 282A1150 1150 0 0 1 1018 139"/><path d="M525 376A1150 1150 0 0 1 1018 139"/><path d="M733 585A1150 1150 0 0 1 1018 139"/>
<path d="M869 216A1150 1150 0 0 1 1251 272"/><path d="M869 216A1150 1150 0 0 1 1491 230"/><path d="M869 216A1150 1150 0 0 1 1605 373"/><path d="M869 216A1150 1150 0 0 1 1370 444"/><path d="M869 216A1150 1150 0 0 1 1041 500"/><path d="M837 425A1150 1150 0 0 1 869 216"/><path d="M957 648A1150 1150 0 0 1 869 216"/><path d="M869 216A1150 1150 0 0 1 1693 558"/><path d="M869 216A1150 1150 0 0 1 1503 683"/><path d="M869 216A1150 1150 0 0 1 1228 770"/><path d="M869 216A1150 1150 0 0 1 1082 783"/><path d="M664 100A1150 1150 0 0 1 869 216"/><path d="M338 282A1150 1150 0 0 1 869 216"/><path d="M525 376A1150 1150 0 0 1 869 216"/><path d="M733 585A1150 1150 0 0 1 869 216"/>
<path d="M1251 272A1150 1150 0 0 1 1491 230"/><path d="M1251 272A1150 1150 0 0 1 1605 373"/><path d="M1251 272A1150 1150 0 0 1 1370 444"/><path d="M1041 500A1150 1150 0 0 1 1251 272"/><path d="M837 425A1150 1150 0 0 1 1251 272"/><path d="M957 648A1150 1150 0 0 1 1251 272"/><path d="M1251 272A1150 1150 0 0 1 1693 558"/><path d="M1251 272A1150 1150 0 0 1 1503 683"/><path d="M1251 272A1150 1150 0 0 1 1228 770"/><path d="M1082 783A1150 1150 0 0 1 1251 272"/>
<path d="M1491 230A1150 1150 0 0 1 1605 373"/><path d="M1491 230A1150 1150 0 0 1 1370 444"/><path d="M1491 230A1150 1150 0 0 1 1693 558"/><path d="M1491 230A1150 1150 0 0 1 1503 683"/><path d="M1491 230A1150 1150 0 0 1 1228 770"/><path d="M1041 500A1150 1150 0 0 1 1491 230"/><path d="M957 648A1150 1150 0 0 1 1491 230"/>
<path d="M1605 373A1150 1150 0 0 1 1693 558"/><path d="M1370 444A1150 1150 0 0 1 1605 373"/><path d="M1605 373A1150 1150 0 0 1 1503 683"/><path d="M1228 770A1150 1150 0 0 1 1605 373"/><path d="M1605 373A1150 1150 0 0 1 1866 853"/><path d="M1605 373A1150 1150 0 0 1 1924 673"/><path d="M1041 500A1150 1150 0 0 1 1605 373"/><path d="M1082 783A1150 1150 0 0 1 1605 373"/>
<path d="M1370 444A1150 1150 0 0 1 1693 558"/><path d="M1370 444A1150 1150 0 0 1 1503 683"/><path d="M1370 444A1150 1150 0 0 1 1228 770"/><path d="M1041 500A1150 1150 0 0 1 1370 444"/><path d="M957 648A1150 1150 0 0 1 1370 444"/><path d="M1082 783A1150 1150 0 0 1 1370 444"/><path d="M1370 444A1150 1150 0 0 1 1866 853"/>
<path d="M837 425A1150 1150 0 0 1 1041 500"/><path d="M957 648A1150 1150 0 0 1 1041 500"/><path d="M1041 500A1150 1150 0 0 1 1082 783"/><path d="M1041 500A1150 1150 0 0 1 1228 770"/><path d="M1041 500A1150 1150 0 0 1 1693 558"/><path d="M1041 500A1150 1150 0 0 1 1503 683"/>
<path d="M1693 558A1150 1150 0 0 1 1503 683"/><path d="M1228 770A1150 1150 0 0 1 1693 558"/><path d="M1693 558A1150 1150 0 0 1 1866 853"/><path d="M1693 558A1150 1150 0 0 1 1924 673"/><path d="M1693 558A1150 1150 0 0 1 2119 932"/><path d="M1693 558A1150 1150 0 0 1 1933 1090"/><path d="M1693 558A1150 1150 0 0 1 1693 930"/>
<path d="M957 648A1150 1150 0 0 1 1082 783"/><path d="M957 648A1150 1150 0 0 1 1228 770"/><path d="M957 648A1150 1150 0 0 1 1503 683"/><path d="M837 425A1150 1150 0 0 1 957 648"/><path d="M1228 770A1150 1150 0 0 1 1503 683"/><path d="M1503 683A1150 1150 0 0 1 1866 853"/><path d="M1503 683A1150 1150 0 0 1 1924 673"/><path d="M1503 683A1150 1150 0 0 1 1693 930"/><path d="M1082 783A1150 1150 0 0 1 1228 770"/><path d="M1228 770A1150 1150 0 0 1 1866 853"/>
<path d="M1924 673A1150 1150 0 0 1 1866 853"/><path d="M1866 853A1150 1150 0 0 1 2119 932"/><path d="M1866 853A1150 1150 0 0 1 1933 1090"/><path d="M1866 853A1150 1150 0 0 1 1693 930"/><path d="M1866 853A1150 1150 0 0 1 1584 1442"/><path d="M1866 853A1150 1150 0 0 1 2021 1525"/><path d="M1866 853A1150 1150 0 0 1 1943 1293"/><path d="M1210 1119A1150 1150 0 0 1 1045 982"/>
</g>
<g class="e b">
<path d="M1443 41A1150 1150 0 0 1 1471 1183"/><path d="M1637 83A1150 1150 0 0 1 1471 1183"/><path d="M1018 139A1150 1150 0 0 1 1471 1183"/><path d="M869 216A1150 1150 0 0 1 1471 1183"/><path d="M1605 373A1150 1150 0 0 1 1471 1183"/><path d="M1370 444A1150 1150 0 0 1 1471 1183"/><path d="M1693 558A1150 1150 0 0 1 1471 1183"/><path d="M1503 683A1150 1150 0 0 1 1471 1183"/><path d="M1228 770A1150 1150 0 0 1 1471 1183"/><path d="M1082 783A1150 1150 0 0 1 1471 1183"/><path d="M1866 853A1150 1150 0 0 1 1471 1183"/><path d="M1471 1183A1150 1150 0 0 1 1210 1119"/><path d="M1924 673A1150 1150 0 0 1 1471 1183"/><path d="M1361 952A1150 1150 0 0 1 1471 1183"/><path d="M1693 930A1150 1150 0 0 1 1471 1183"/><path d="M2119 932A1150 1150 0 0 1 1471 1183"/><path d="M1933 1090A1150 1150 0 0 1 1471 1183"/><path d="M1716 1154A1150 1150 0 0 1 1471 1183"/><path d="M1943 1293A1150 1150 0 0 1 1471 1183"/><path d="M1471 1183A1150 1150 0 0 1 1760 1396"/><path d="M1471 1183A1150 1150 0 0 1 1584 1442"/><path d="M1471 1183A1150 1150 0 0 1 2021 1525"/><path d="M1471 1183A1150 1150 0 0 1 1332 1595"/><path d="M1471 1183A1150 1150 0 0 1 1508 1676"/><path d="M1471 1183A1150 1150 0 0 1 1154 1691"/><path d="M1471 1183A1150 1150 0 0 1 1050 1200"/><path d="M1471 1183A1150 1150 0 0 1 902 1325"/><path d="M1471 1183A1150 1150 0 0 1 722 1467"/><path d="M1471 1183A1150 1150 0 0 1 1006 1560"/><path d="M1471 1183A1150 1150 0 0 1 795 1669"/><path d="M1471 1183A1150 1150 0 0 1 951 1904"/><path d="M1471 1183A1150 1150 0 0 1 1045 982"/><path d="M653 766A1150 1150 0 0 1 1471 1183"/><path d="M498 606A1150 1150 0 0 1 1471 1183"/><path d="M1471 1183A1150 1150 0 0 1 236 868"/><path d="M157 622A1150 1150 0 0 1 1471 1183"/><path d="M1471 1183A1150 1150 0 0 1 88 820"/><path d="M1471 1183A1150 1150 0 0 1 83 1077"/><path d="M1471 1183A1150 1150 0 0 1 641 970"/><path d="M1471 1183A1150 1150 0 0 1 539 1210"/><path d="M525 376A1150 1150 0 0 1 1471 1183"/><path d="M338 282A1150 1150 0 0 1 1471 1183"/>
<path d="M1210 1119A1150 1150 0 0 1 1217 1308"/><path d="M1361 952A1150 1150 0 0 1 1217 1308"/><path d="M1693 930A1150 1150 0 0 1 1217 1308"/><path d="M1933 1090A1150 1150 0 0 1 1217 1308"/><path d="M1716 1154A1150 1150 0 0 1 1217 1308"/><path d="M1943 1293A1150 1150 0 0 1 1217 1308"/><path d="M1760 1396A1150 1150 0 0 1 1217 1308"/><path d="M1584 1442A1150 1150 0 0 1 1217 1308"/><path d="M2021 1525A1150 1150 0 0 1 1217 1308"/><path d="M1508 1676A1150 1150 0 0 1 1217 1308"/><path d="M1332 1595A1150 1150 0 0 1 1217 1308"/><path d="M1217 1308A1150 1150 0 0 1 1154 1691"/><path d="M1217 1308A1150 1150 0 0 1 902 1325"/><path d="M1217 1308A1150 1150 0 0 1 722 1467"/><path d="M1217 1308A1150 1150 0 0 1 1006 1560"/><path d="M1217 1308A1150 1150 0 0 1 795 1669"/><path d="M1217 1308A1150 1150 0 0 1 951 1904"/><path d="M1217 1308A1150 1150 0 0 1 1045 982"/><path d="M1217 1308A1150 1150 0 0 1 839 1061"/><path d="M1217 1308A1150 1150 0 0 1 539 1210"/><path d="M1217 1308A1150 1150 0 0 1 387 1459"/><path d="M1217 1308A1150 1150 0 0 1 451 1619"/><path d="M1217 1308A1150 1150 0 0 1 137 1506"/><path d="M1217 1308A1150 1150 0 0 1 361 1277"/><path d="M1217 1308A1150 1150 0 0 1 389 978"/><path d="M1217 1308A1150 1150 0 0 1 641 970"/><path d="M1217 1308A1150 1150 0 0 1 83 1077"/><path d="M1217 1308A1150 1150 0 0 1 236 868"/><path d="M1217 1308A1150 1150 0 0 1 88 820"/><path d="M1217 1308A1150 1150 0 0 1 157 622"/><path d="M1217 1308A1150 1150 0 0 1 377 708"/><path d="M1217 1308A1150 1150 0 0 1 653 766"/><path d="M1217 1308A1150 1150 0 0 1 498 606"/><path d="M1217 1308A1150 1150 0 0 1 338 282"/><path d="M1217 1308A1150 1150 0 0 1 525 376"/><path d="M1217 1308A1150 1150 0 0 1 733 585"/><path d="M1217 1308A1150 1150 0 0 1 664 100"/><path d="M1924 673A1150 1150 0 0 1 1217 1308"/><path d="M2119 932A1150 1150 0 0 1 1217 1308"/><path d="M1018 139A1150 1150 0 0 1 1217 1308"/><path d="M1228 770A1150 1150 0 0 1 1217 1308"/><path d="M1503 683A1150 1150 0 0 1 1217 1308"/><path d="M1693 558A1150 1150 0 0 1 1217 1308"/><path d="M1082 783A1150 1150 0 0 1 1217 1308"/><path d="M1866 853A1150 1150 0 0 1 1217 1308"/>
<path d="M1924 673A1150 1150 0 0 1 1361 952"/><path d="M1693 930A1150 1150 0 0 1 1361 952"/><path d="M2119 932A1150 1150 0 0 1 1361 952"/><path d="M1361 952A1150 1150 0 0 1 1933 1090"/><path d="M1361 952A1150 1150 0 0 1 1716 1154"/><path d="M1361 952A1150 1150 0 0 1 1943 1293"/><path d="M1361 952A1150 1150 0 0 1 1760 1396"/><path d="M1361 952A1150 1150 0 0 1 1584 1442"/><path d="M1361 952A1150 1150 0 0 1 2021 1525"/><path d="M1361 952A1150 1150 0 0 1 1332 1595"/><path d="M1361 952A1150 1150 0 0 1 1508 1676"/><path d="M1361 952A1150 1150 0 0 1 1154 1691"/><path d="M1866 853A1150 1150 0 0 1 1361 952"/><path d="M1503 683A1150 1150 0 0 1 1361 952"/><path d="M1693 558A1150 1150 0 0 1 1361 952"/><path d="M1228 770A1150 1150 0 0 1 1361 952"/><path d="M1370 444A1150 1150 0 0 1 1361 952"/><path d="M1605 373A1150 1150 0 0 1 1361 952"/><path d="M1361 952A1150 1150 0 0 1 1210 1119"/><path d="M1361 952A1150 1150 0 0 1 902 1325"/><path d="M1361 952A1150 1150 0 0 1 1006 1560"/><path d="M1361 952A1150 1150 0 0 1 951 1904"/><path d="M1361 952A1150 1150 0 0 1 722 1467"/><path d="M1361 952A1150 1150 0 0 1 795 1669"/><path d="M1361 952A1150 1150 0 0 1 1045 982"/>
<path d="M1924 673A1150 1150 0 0 1 2119 932"/><path d="M1924 673A1150 1150 0 0 1 1933 1090"/><path d="M1924 673A1150 1150 0 0 1 1693 930"/><path d="M1924 673A1150 1150 0 0 1 1716 1154"/><path d="M1924 673A1150 1150 0 0 1 1943 1293"/><path d="M1924 673A1150 1150 0 0 1 1760 1396"/><path d="M1924 673A1150 1150 0 0 1 1584 1442"/><path d="M1924 673A1150 1150 0 0 1 2021 1525"/>
<path d="M2119 932A1150 1150 0 0 1 1933 1090"/><path d="M1693 930A1150 1150 0 0 1 2119 932"/><path d="M2119 932A1150 1150 0 0 1 1943 1293"/><path d="M2119 932A1150 1150 0 0 1 1760 1396"/><path d="M2119 932A1150 1150 0 0 1 1584 1442"/><path d="M2119 932A1150 1150 0 0 1 2021 1525"/><path d="M2119 932A1150 1150 0 0 1 1716 1154"/>
<path d="M1693 930A1150 1150 0 0 1 1933 1090"/><path d="M1693 930A1150 1150 0 0 1 1716 1154"/><path d="M1693 930A1150 1150 0 0 1 1943 1293"/><path d="M1693 930A1150 1150 0 0 1 1760 1396"/><path d="M1693 930A1150 1150 0 0 1 1584 1442"/><path d="M1693 930A1150 1150 0 0 1 2021 1525"/><path d="M1693 930A1150 1150 0 0 1 1332 1595"/><path d="M1693 930A1150 1150 0 0 1 1508 1676"/>
<path d="M1933 1090A1150 1150 0 0 1 1716 1154"/><path d="M1933 1090A1150 1150 0 0 1 1943 1293"/><path d="M1933 1090A1150 1150 0 0 1 1760 1396"/><path d="M1933 1090A1150 1150 0 0 1 1584 1442"/><path d="M1933 1090A1150 1150 0 0 1 2021 1525"/><path d="M1933 1090A1150 1150 0 0 1 1332 1595"/><path d="M1933 1090A1150 1150 0 0 1 1508 1676"/><path d="M1933 1090A1150 1150 0 0 1 1154 1691"/>
<path d="M1716 1154A1150 1150 0 0 1 1943 1293"/><path d="M1716 1154A1150 1150 0 0 1 1760 1396"/><path d="M1716 1154A1150 1150 0 0 1 1584 1442"/><path d="M1716 1154A1150 1150 0 0 1 2021 1525"/><path d="M1716 1154A1150 1150 0 0 1 1332 1595"/><path d="M1716 1154A1150 1150 0 0 1 1508 1676"/><path d="M1716 1154A1150 1150 0 0 1 1154 1691"/>
<path d="M1943 1293A1150 1150 0 0 1 1760 1396"/><path d="M1943 1293A1150 1150 0 0 1 1584 1442"/><path d="M1943 1293A1150 1150 0 0 1 2021 1525"/><path d="M1943 1293A1150 1150 0 0 1 1332 1595"/><path d="M1943 1293A1150 1150 0 0 1 1508 1676"/>
<path d="M1760 1396A1150 1150 0 0 1 1584 1442"/><path d="M2021 1525A1150 1150 0 0 1 1760 1396"/><path d="M1760 1396A1150 1150 0 0 1 1332 1595"/><path d="M1760 1396A1150 1150 0 0 1 1508 1676"/><path d="M1760 1396A1150 1150 0 0 1 1154 1691"/><path d="M2021 1525A1150 1150 0 0 1 1584 1442"/><path d="M1584 1442A1150 1150 0 0 1 1332 1595"/><path d="M1584 1442A1150 1150 0 0 1 1508 1676"/><path d="M1584 1442A1150 1150 0 0 1 1154 1691"/><path d="M2021 1525A1150 1150 0 0 1 1332 1595"/><path d="M2021 1525A1150 1150 0 0 1 1508 1676"/><path d="M2021 1525A1150 1150 0 0 1 1154 1691"/><path d="M1508 1676A1150 1150 0 0 1 1332 1595"/><path d="M1332 1595A1150 1150 0 0 1 1154 1691"/><path d="M1508 1676A1150 1150 0 0 1 1154 1691"/>
</g>
<g class="e t r">
<path d="M851 806A1150 1150 0 0 1 1272 587"/><path d="M851 806A1150 1150 0 0 1 1524 926"/><path d="M1272 587A1150 1150 0 0 1 1524 926"/><path d="M1524 926A1150 1150 0 0 1 1379 1306"/><path d="M1272 587A1150 1150 0 0 1 1379 1306"/>
</g>
<g class="e t b">
<path d="M851 806A1150 1150 0 0 1 1471 1183"/><path d="M1217 1308A1150 1150 0 0 1 851 806"/><path d="M1471 1183A1150 1150 0 0 1 1217 1308"/><path d="M1379 1306A1150 1150 0 0 1 1217 1308"/><path d="M1471 1183A1150 1150 0 0 1 1379 1306"/><path d="M1524 926A1150 1150 0 0 1 1471 1183"/><path d="M1272 587A1150 1150 0 0 1 1471 1183"/><path d="M1272 587A1150 1150 0 0 1 1217 1308"/><path d="M1524 926A1150 1150 0 0 1 1217 1308"/><path d="M1217 1308A1150 1150 0 0 1 1050 1200"/>
</g>
<g class="e t g">
<path d="M498 606A1150 1150 0 0 1 851 806"/><path d="M653 766A1150 1150 0 0 1 851 806"/><path d="M653 766A1150 1150 0 0 1 498 606"/>
</g>
<g class="e t y">
<path d="M1050 1200A1150 1150 0 0 1 851 806"/><path d="M1050 1200A1150 1150 0 0 1 653 766"/>
</g>
</g>
<g id="nodes">
<g id="n-blue-a"><circle class="cB" cx="1693" cy="930" r="12"/></g>
<g id="n-blue-b"><circle class="cB" cx="1716" cy="1154" r="12"/></g>
<g id="n-blue-c"><circle class="cB" cx="1760" cy="1396" r="13"/></g>
<g id="n-blue-d"><circle class="cB" cx="1361" cy="952" r="28"/></g>
<g id="n-green-a"><circle class="cG" cx="653" cy="766" r="43"/></g>
<g id="n-green-b"><circle class="cG" cx="187" cy="1270" r="10"/></g>
<g id="n-recovery"><circle class="cR" cx="1443" cy="41" r="12"/><text x="1446" y="50" font-size="32">recovery</text></g>
<g id="n-stroke"><circle class="cR" cx="1637" cy="83" r="17"/><text x="1637" y="93" font-size="34">stroke</text></g>
<g id="n-performance"><circle class="cR" cx="1240" cy="104" r="12"/><text x="1239" y="111" font-size="32">performance</text></g>
<g id="n-kinematics"><circle class="cR" cx="1018" cy="139" r="13"/><text x="1018" y="146" font-size="32">kinematics</text></g>
<g id="n-electromyography"><circle class="cR" cx="869" cy="216" r="13"/><text x="869" y="225" font-size="32">electromyography</text></g>
<g id="n-balance"><circle class="cR" cx="1491" cy="230" r="12"/><text x="1493" y="240" font-size="32">balance</text></g>
<g id="n-gait-rehabilitation"><circle class="cR" cx="1251" cy="272" r="12"/><text x="1250" y="280" font-size="32">gait rehabilitation</text></g>
<g id="n-classification"><circle class="cR" cx="1605" cy="373" r="12"/><text x="1605" y="381" font-size="32.6">classification</text></g>
<g id="n-cost"><circle class="cR" cx="837" cy="425" r="11"/><text x="837" y="432" font-size="32">cost</text></g>
<g id="n-support"><circle class="cR" cx="1370" cy="444" r="12"/><text x="1371" y="451" font-size="32">support</text></g>
<g id="n-rehabilitation-robotics"><circle class="cR" cx="1041" cy="500" r="14"/><text x="1044" y="508" font-size="35">rehabilitation robotics</text></g>
<g id="n-motion"><circle class="cR" cx="1693" cy="558" r="12"/><text x="1693" y="568" font-size="32">motion</text></g>
<g id="n-gait"><circle class="cR" cx="1272" cy="587" r="31"/><text x="1272" y="598" font-size="42">gait</text></g>
<g id="n-device"><circle class="cR" cx="957" cy="648" r="10"/><text x="957" y="657" font-size="31">device</text></g>
<g id="n-strategies"><circle class="cR" cx="1503" cy="683" r="10"/><text x="1507" y="691" font-size="32.6">strategies</text></g>
<g id="n-model"><circle class="cR" cx="1228" cy="770" r="15"/><text x="1231" y="778" font-size="34">model</text></g>
<g id="n-emg"><circle class="cR" cx="1082" cy="783" r="10"/><text x="1084" y="788" font-size="31">emg</text></g>
<g id="n-exoskeleton"><circle class="cR" cx="851" cy="806" r="51"/><text x="854" y="825" font-size="50">exoskeleton</text></g>
<g id="n-exoskeleton-robot"><circle class="cR" cx="1866" cy="853" r="12"/><text x="1870" y="859" font-size="35">exoskeleton robot</text></g>
<g id="n-rehabilitation"><circle class="cR" cx="1524" cy="926" r="40"/><text x="1527" y="941" font-size="44">rehabilitation</text></g>
<g id="n-leg-exoskeleton"><circle class="cR" cx="1210" cy="1119" r="8"/><text x="1211" y="1124" font-size="32">leg exoskeleton</text></g>
<g id="n-trajectory"><circle class="cG" cx="338" cy="282" r="12"/><text x="338" y="291" font-size="32">trajectory</text></g>
<g id="n-wearable-robotics"><circle class="cG" cx="525" cy="376" r="14"/><text x="524" y="379" font-size="35">wearable robotics</text></g>
<g id="n-muscles"><circle class="cG" cx="310" cy="494" r="10"/><text x="310" y="501" font-size="32">muscles</text></g>
<g id="n-knee"><circle class="cG" cx="157" cy="622" r="17"/><text x="157" y="632" font-size="34">knee</text></g>
<g id="n-legged-locomotion"><circle class="cG" cx="498" cy="606" r="28"/><text x="493" y="617" font-size="36">legged locomotion</text></g>
<g id="n-force"><circle class="cG" cx="733" cy="585" r="17"/><text x="733" y="596" font-size="36">force</text></g>
<g id="n-work"><circle class="cG" cx="377" cy="708" r="13"/><text x="378" y="716" font-size="35">work</text></g>
<g id="n-torque"><circle class="cG" cx="88" cy="820" r="15"/><text x="88" y="830" font-size="35">torque</text></g>
<g id="n-hip"><circle class="cG" cx="236" cy="868" r="16"/><text x="239" y="876" font-size="35">hip</text></g>
<g id="n-biomechanics"><circle class="cG" cx="389" cy="978" r="13"/><text x="387" y="986" font-size="35">biomechanics</text></g>
<g id="n-robots"><circle class="cG" cx="641" cy="970" r="14"/><text x="645" y="977" font-size="35">robots</text></g>
<g id="n-actuators"><circle class="cG" cx="83" cy="1077" r="13"/><text x="86" y="1084" font-size="32">actuators</text></g>
<g id="n-adaptation"><circle class="cG" cx="839" cy="1061" r="7"/><text x="837" y="1066" font-size="32">adaptation</text></g>
<g id="n-dynamics"><circle class="cG" cx="539" cy="1210" r="12"/><text x="540" y="1217" font-size="32">dynamics</text></g>
<g id="n-energetics"><circle class="cG" cx="361" cy="1277" r="13"/><text x="361" y="1283" font-size="32">energetics</text></g>
<g id="n-metabolic-cost"><circle class="cG" cx="387" cy="1459" r="13"/><text x="386" y="1467" font-size="32">metabolic cost</text></g>
<g id="n-robotics"><circle class="cG" cx="137" cy="1506" r="12"/><text x="138" y="1513" font-size="31">robotics</text></g>
<g id="n-power"><circle class="cG" cx="451" cy="1619" r="12"/><text x="449" y="1630" font-size="30.5">power</text></g>
<g id="n-lower-limb"><circle class="cY" cx="664" cy="100" r="15"/><text x="666" y="107" font-size="35">lower limb</text></g>
<g id="n-powered-exoskeleton"><circle class="cY" cx="1045" cy="982" r="8"/><text x="1042" y="988" font-size="32">powered exoskeleton</text></g>
<g id="n-walking"><circle class="cY" cx="1050" cy="1200" r="42"/><text x="1053" y="1216" font-size="47">walking</text></g>
<g id="n-assistance"><circle class="cY" cx="902" cy="1325" r="14"/><text x="901" y="1328" font-size="34">assistance</text></g>
<g id="n-optimization"><circle class="cY" cx="722" cy="1467" r="18"/><text x="727" y="1477" font-size="35">optimization</text></g>
<g id="n-simulation"><circle class="cY" cx="1006" cy="1560" r="12"/><text x="1007" y="1561" font-size="34.5">simulation</text></g>
<g id="n-spinal-cord-injury"><circle class="cY" cx="795" cy="1669" r="14"/><text x="798" y="1679" font-size="35.5">spinal-cord-injury</text></g>
<g id="n-lower-extremity-exoskeleton"><circle class="cY" cx="951" cy="1904" r="17"/><text x="957" y="1916" font-size="39">lower extremity exoskeleton</text></g>
<g id="n-joint"><circle class="cB" cx="1924" cy="673" r="13"/><text x="1927" y="683" font-size="33">joint</text></g>
<g id="n-driven"><circle class="cB" cx="2119" cy="932" r="13"/><text x="2117" y="941" font-size="32">driven</text></g>
<g id="n-human-robot-interaction"><circle class="cB" cx="1933" cy="1090" r="15"/><text x="1937" y="1098" font-size="35">human-robot interaction</text></g>
<g id="n-lower-limb-exoskeleton"><circle class="cB" cx="1471" cy="1183" r="47"/><text x="1475" y="1198" font-size="50">lower limb exoskeleton</text></g>
<g id="n-design"><circle class="cB" cx="1217" cy="1308" r="50"/><text x="1217" y="1325" font-size="49">design</text></g>
<g id="n-robot"><circle class="cR" cx="1379" cy="1306" r="39"/><text x="1380" y="1321" font-size="43">robot</text></g>
<g id="n-reinforcement-learning"><circle class="cB" cx="1943" cy="1293" r="12"/><text x="1947" y="1303" font-size="32.4">reinforcement learning</text></g>
<g id="n-system"><circle class="cB" cx="1584" cy="1442" r="22"/><text x="1583" y="1453" font-size="37">system</text></g>
<g id="n-tracking-control"><circle class="cB" cx="2021" cy="1525" r="13"/><text x="2021" y="1536" font-size="32.5">tracking control</text></g>
<g id="n-orthoses"><circle class="cB" cx="1332" cy="1595" r="16"/><text x="1336" y="1602" font-size="35">orthoses</text></g>
<g id="n-sliding-mode-control"><circle class="cB" cx="1508" cy="1676" r="14"/><text x="1509" y="1685" font-size="35">sliding mode control</text></g>
<g id="n-systems"><circle class="cB" cx="1154" cy="1691" r="13"/><text x="1151" y="1697" font-size="33.5">systems</text></g>
</g>
</svg>
